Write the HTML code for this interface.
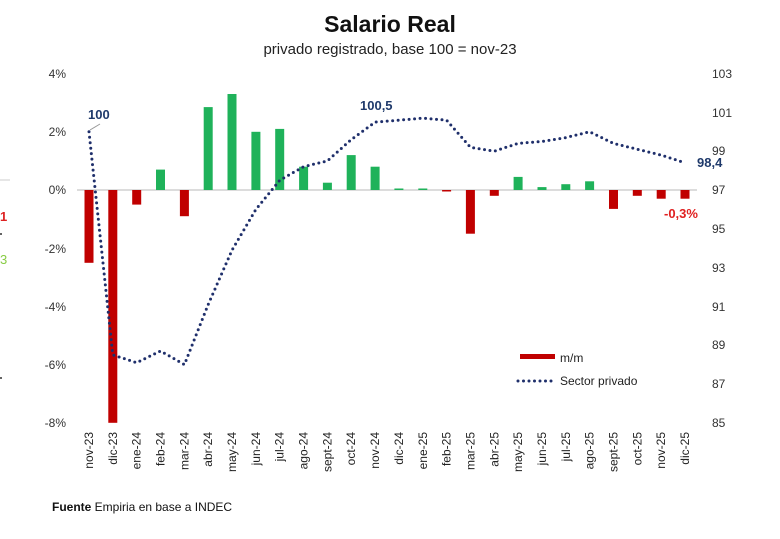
<!DOCTYPE html>
<html><head><meta charset="utf-8"><style>
body{margin:0;background:#fff;}
svg{display:block;font-family:"Liberation Sans",sans-serif;}
</style></head><body>
<svg width="780" height="539" viewBox="0 0 780 539" xmlns="http://www.w3.org/2000/svg">
<rect width="780" height="539" fill="#fff"/>
<text x="390" y="32" text-anchor="middle" font-size="23" font-weight="bold" fill="#111">Salario Real</text>
<text x="390" y="54" text-anchor="middle" font-size="15" fill="#222">privado registrado, base 100 = nov-23</text>
<line x1="0" y1="180" x2="10" y2="180" stroke="#ccc"/>
<text x="0" y="221" font-size="13" font-weight="bold" fill="#d22">1</text>
<text x="0" y="264" font-size="13" fill="#8c4">3</text>
<circle cx="1" cy="234" r="1" fill="#333"/><circle cx="1" cy="378" r="1" fill="#333"/>
<g font-size="12" fill="#333" text-anchor="end">
<text x="66" y="78">4%</text><text x="66" y="136">2%</text><text x="66" y="194">0%</text>
<text x="66" y="253">-2%</text><text x="66" y="311">-4%</text><text x="66" y="369">-6%</text><text x="66" y="427">-8%</text>
</g>
<g font-size="12" fill="#333">
<text x="712" y="78">103</text><text x="712" y="117">101</text><text x="712" y="155">99</text>
<text x="712" y="194">97</text><text x="712" y="233">95</text><text x="712" y="272">93</text>
<text x="712" y="311">91</text><text x="712" y="349">89</text><text x="712" y="388">87</text><text x="712" y="427">85</text>
</g>
<line x1="77" y1="190" x2="697" y2="190" stroke="#d0d0d0" stroke-width="1.5"/>
<g fill="#c00000">
<rect x="84.5" y="190" width="9" height="72.8"/>
<rect x="108.3" y="190" width="9" height="232.8"/>
<rect x="132.2" y="190" width="9" height="14.6"/>
<rect x="179.9" y="190" width="9" height="26.2"/>
<rect x="442.1" y="190" width="9" height="1.5"/>
<rect x="465.9" y="190" width="9" height="43.7"/>
<rect x="489.8" y="190" width="9" height="5.8"/>
<rect x="609" y="190" width="9" height="18.9"/>
<rect x="632.8" y="190" width="9" height="5.8"/>
<rect x="656.7" y="190" width="9" height="8.7"/>
<rect x="680.5" y="190" width="9" height="8.7"/>
</g>
<g fill="#1fb25a">
<rect x="156" y="169.6" width="9" height="20.4"/>
<rect x="203.7" y="107.1" width="9" height="82.9"/>
<rect x="227.5" y="94" width="9" height="96"/>
<rect x="251.4" y="131.8" width="9" height="58.2"/>
<rect x="275.2" y="128.9" width="9" height="61.1"/>
<rect x="299.1" y="166.7" width="9" height="23.3"/>
<rect x="322.9" y="182.7" width="9" height="7.3"/>
<rect x="346.7" y="155.1" width="9" height="34.9"/>
<rect x="370.6" y="166.7" width="9" height="23.3"/>
<rect x="394.4" y="188.5" width="9" height="1.5"/>
<rect x="418.3" y="188.5" width="9" height="1.5"/>
<rect x="513.6" y="176.9" width="9" height="13.1"/>
<rect x="537.5" y="187.1" width="9" height="2.9"/>
<rect x="561.3" y="184.2" width="9" height="5.8"/>
<rect x="585.1" y="181.3" width="9" height="8.7"/>
</g>
<polyline fill="none" stroke="#1f2f6b" stroke-width="3" stroke-linecap="round" stroke-dasharray="0 5.5"
points="89,131.8 112.8,354.9 136.7,362.7 160.5,351 184.4,364.6 208.2,304.5 232,250.2 255.9,209.4 279.7,180.3 303.6,166.7 327.4,160.9 351.2,139.6 375.1,122.1 398.9,120.2 422.8,118.2 446.6,120.2 470.4,147.3 494.3,151.2 518.1,143.4 542,141.5 565.8,137.6 589.6,131.8 613.5,143.4 637.3,149.3 661.2,155.1 685,162.8"/>
<line x1="90" y1="130" x2="100" y2="124" stroke="#999"/>
<text x="88" y="119" font-size="13" font-weight="bold" fill="#1f3a6b">100</text>
<text x="360" y="110" font-size="13" font-weight="bold" fill="#1f3a6b">100,5</text>
<text x="697" y="167" font-size="13" font-weight="bold" fill="#1f3a6b">98,4</text>
<text x="664" y="218" font-size="13" font-weight="bold" fill="#e02020">-0,3%</text>
<rect x="520" y="354" width="35" height="5" fill="#c00000"/>
<text x="560" y="362" font-size="12" fill="#222">m/m</text>
<line x1="518" y1="381" x2="553" y2="381" stroke="#1f2f6b" stroke-width="3" stroke-linecap="round" stroke-dasharray="0 5.5"/>
<text x="560" y="385" font-size="12" fill="#222">Sector privado</text>
<g font-size="12" fill="#222" text-anchor="end">
<text transform="translate(93,432) rotate(-90)">nov-23</text>
<text transform="translate(116.8,432) rotate(-90)">dic-23</text>
<text transform="translate(140.7,432) rotate(-90)">ene-24</text>
<text transform="translate(164.5,432) rotate(-90)">feb-24</text>
<text transform="translate(188.4,432) rotate(-90)">mar-24</text>
<text transform="translate(212.2,432) rotate(-90)">abr-24</text>
<text transform="translate(236,432) rotate(-90)">may-24</text>
<text transform="translate(259.9,432) rotate(-90)">jun-24</text>
<text transform="translate(283.7,432) rotate(-90)">jul-24</text>
<text transform="translate(307.6,432) rotate(-90)">ago-24</text>
<text transform="translate(331.4,432) rotate(-90)">sept-24</text>
<text transform="translate(355.2,432) rotate(-90)">oct-24</text>
<text transform="translate(379.1,432) rotate(-90)">nov-24</text>
<text transform="translate(402.9,432) rotate(-90)">dic-24</text>
<text transform="translate(426.8,432) rotate(-90)">ene-25</text>
<text transform="translate(450.6,432) rotate(-90)">feb-25</text>
<text transform="translate(474.4,432) rotate(-90)">mar-25</text>
<text transform="translate(498.3,432) rotate(-90)">abr-25</text>
<text transform="translate(522.1,432) rotate(-90)">may-25</text>
<text transform="translate(546,432) rotate(-90)">jun-25</text>
<text transform="translate(569.8,432) rotate(-90)">jul-25</text>
<text transform="translate(593.6,432) rotate(-90)">ago-25</text>
<text transform="translate(617.5,432) rotate(-90)">sept-25</text>
<text transform="translate(641.3,432) rotate(-90)">oct-25</text>
<text transform="translate(665.2,432) rotate(-90)">nov-25</text>
<text transform="translate(689,432) rotate(-90)">dic-25</text>
</g>
<text x="52" y="511" font-size="12" fill="#111"><tspan font-weight="bold">Fuente</tspan> Empiria en base a INDEC</text>
</svg>
</body></html>
